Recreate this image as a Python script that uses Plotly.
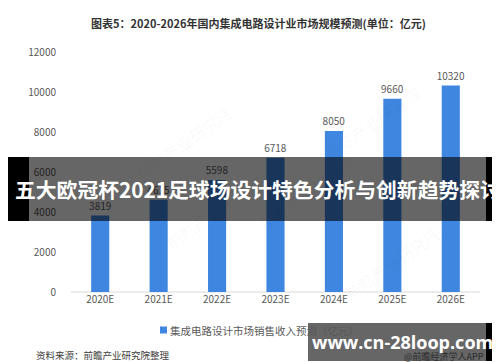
import plotly.graph_objects as go

categories = ["2020E", "2021E", "2022E", "2023E", "2024E", "2025E", "2026E"]
values = [3819, 4615, 5598, 6718, 8050, 9660, 10320]
y_ticks = [0, 2000, 4000, 6000, 8000, 10000, 12000]
y_tick_labels = ["0", "2000", "4000", "6000", "8000", "10000", "12000"]
series_name = "集成电路设计市场销售收入预测（亿元）"
title_text = "图表5：2020-2026年国内集成电路设计业市场规模预测(单位：亿元)"
source_text = "资料来源：前瞻产业研究院整理"
credit_text = "@前瞻经济学人APP"
banner_text = "五大欧冠杯2021足球场设计特色分析与创新趋势探讨"
url_text = "www.cn-28loop.com"

W, H = 500, 362
L, R, T, B = 63, 28, 44, 78
PW, PH = W - L - R, H - T - B

def px(x):
    return (x - L) / PW

def py(y):
    return (H - B - y) / PH

FONT = "Noto Sans CJK SC, Microsoft YaHei, sans-serif"
BAR = "#3f86e0"

fig = go.Figure()
fig.add_trace(go.Bar(
    x=categories, y=values, name=series_name,
    marker=dict(color=BAR, line=dict(width=0)),
    text=[str(v) for v in values], textposition="outside",
    constraintext="none",
    textfont=dict(size=10, color="#595959", family=FONT),
    cliponaxis=False, showlegend=False,
))

shapes = [
    dict(type="line", xref="paper", yref="paper", x0=0, x1=1, y0=0, y1=0,
         line=dict(color="#d9d9d9", width=1), layer="below"),
    # legend marker
    dict(type="rect", xref="paper", yref="paper", x0=px(152), x1=px(159),
         y0=py(325.5), y1=py(318.5), fillcolor=BAR, line=dict(width=0), layer="below"),
    # banner band
    dict(type="rect", xref="paper", yref="paper", x0=px(21), x1=px(478),
         y0=py(213), y1=py(149), fillcolor="rgba(0,0,0,0.6)", line=dict(width=0), layer="above"),
    dict(type="rect", xref="paper", yref="paper", x0=px(0), x1=px(21),
         y0=py(213), y1=py(149), fillcolor="black", line=dict(width=0), layer="above"),
    dict(type="rect", xref="paper", yref="paper", x0=px(478), x1=px(500),
         y0=py(213), y1=py(149), fillcolor="black", line=dict(width=0), layer="above"),
    # url box
    dict(type="rect", xref="paper", yref="paper", x0=px(300), x1=px(478),
         y0=py(353), y1=py(315), fillcolor="rgba(0,0,0,0.6)", line=dict(width=0), layer="above"),
    dict(type="rect", xref="paper", yref="paper", x0=px(478), x1=px(491),
         y0=py(353), y1=py(315), fillcolor="black", line=dict(width=0), layer="above"),
]

annotations = []
# faint watermarks
for wx, wy in [(120, 90), (300, 230), (420, 70), (150, 250), (440, 300)]:
    annotations.append(dict(text="前瞻产业研究院", xref="paper", yref="paper",
                            x=px(wx), y=py(wy), showarrow=False, textangle=-35,
                            font=dict(size=16, color="rgba(0,0,0,0.035)", family=FONT)))

annotations += [
    dict(text="<b>" + title_text + "</b>", xref="paper", yref="paper",
         x=px(250), y=py(15), xanchor="center", yanchor="middle", showarrow=False,
         font=dict(size=11, color="#333333", family=FONT)),
    dict(text=series_name, xref="paper", yref="paper",
         x=px(160), y=py(322), xanchor="left", yanchor="middle", showarrow=False,
         font=dict(size=10.5, color="#595959", family=FONT)),
    dict(text=source_text, xref="paper", yref="paper",
         x=px(26), y=py(347), xanchor="left", yanchor="middle", showarrow=False,
         font=dict(size=9.5, color="#404040", family=FONT)),
    dict(text=credit_text, xref="paper", yref="paper",
         x=px(478), y=py(348), xanchor="right", yanchor="middle", showarrow=False,
         font=dict(size=9, color="#2a2a2a", family=FONT)),
    dict(text="<b>" + banner_text + "</b>", xref="paper", yref="paper",
         x=px(250), y=py(181), xanchor="center", yanchor="middle", showarrow=False,
         font=dict(size=20.8, color="white", family=FONT)),
    dict(text="<b>" + url_text + "</b>", xref="paper", yref="paper",
         x=px(394), y=py(334), xanchor="center", yanchor="middle", showarrow=False,
         font=dict(size=18, color="white", family="Open Sans, DejaVu Sans, sans-serif")),
]

fig.update_layout(
    width=W, height=H,
    margin=dict(l=L, r=R, t=T, b=B, pad=0),
    paper_bgcolor="white", plot_bgcolor="white",
    bargap=0.69,
    showlegend=False,
    xaxis=dict(showgrid=False, showline=False, zeroline=False, ticks="",
               tickfont=dict(size=10, color="#595959", family=FONT)),
    yaxis=dict(range=[0, 12000], tickvals=y_ticks, ticktext=y_tick_labels,
               showgrid=False, showline=False,
               zeroline=False, ticks="", ticklabelstandoff=14,
               tickfont=dict(size=10, color="#595959", family=FONT)),
    shapes=shapes, annotations=annotations,
)

fig.write_html("out.html")
